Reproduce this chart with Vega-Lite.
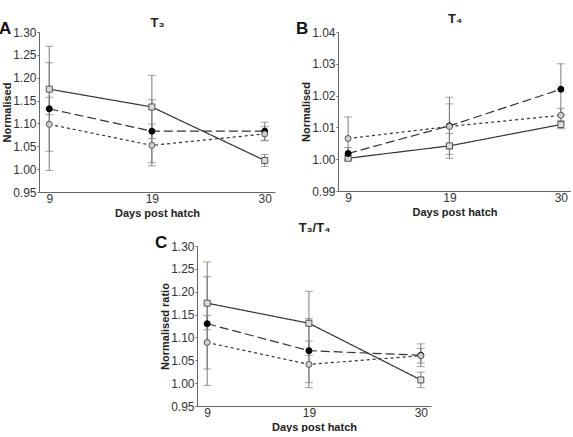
{
  "$schema": "https://vega.github.io/schema/vega-lite/v6.json",
  "padding": {"left": -1, "top": 12, "right": 0, "bottom": 0},
  "background": "white",
  "config": {
    "view": {"stroke": null},
    "font": "Liberation Sans",
    "axis": {"labelFont": "Liberation Sans", "labelFontSize": 12, "labelColor": "#333", "labelOverlap": false, "titleFont": "Liberation Sans", "titleFontSize": 11, "titleFontWeight": "bold", "titleColor": "#222", "domainColor": "#666", "tickColor": "#666", "grid": false, "tickSize": 2, "labelPadding": 1},
    "axisX": {"titlePadding": 3, "tickSize": 0, "labelPadding": 1},
    "axisY": {"titlePadding": 0},
    "title": {"font": "Liberation Sans", "fontWeight": "bold", "color": "#111"}
  },
  "data": {"values": [
    {"panel": "A", "group": "G1", "day": 9, "mean": 1.175, "lo": 1.119, "hi": 1.233},
    {"panel": "A", "group": "G1", "day": 19, "mean": 1.136, "lo": 1.067, "hi": 1.205},
    {"panel": "A", "group": "G1", "day": 30, "mean": 1.019, "lo": 1.006, "hi": 1.032},
    {"panel": "A", "group": "G2", "day": 9, "mean": 1.132, "lo": 0.997, "hi": 1.269},
    {"panel": "A", "group": "G2", "day": 19, "mean": 1.083, "lo": 1.014, "hi": 1.152},
    {"panel": "A", "group": "G2", "day": 30, "mean": 1.083, "lo": 1.063, "hi": 1.103},
    {"panel": "A", "group": "G3", "day": 9, "mean": 1.098, "lo": 1.039, "hi": 1.157},
    {"panel": "A", "group": "G3", "day": 19, "mean": 1.052, "lo": 1.007, "hi": 1.099},
    {"panel": "A", "group": "G3", "day": 30, "mean": 1.077, "lo": 1.062, "hi": 1.093},
    {"panel": "B", "group": "G1", "day": 9, "mean": 1.0003, "lo": 0.9995, "hi": 1.0011},
    {"panel": "B", "group": "G1", "day": 19, "mean": 1.0042, "lo": 1.0003, "hi": 1.0081},
    {"panel": "B", "group": "G1", "day": 30, "mean": 1.0109, "lo": 1.0096, "hi": 1.0122},
    {"panel": "B", "group": "G2", "day": 9, "mean": 1.0018, "lo": 0.9999, "hi": 1.0037},
    {"panel": "B", "group": "G2", "day": 19, "mean": 1.0105, "lo": 1.0015, "hi": 1.0195},
    {"panel": "B", "group": "G2", "day": 30, "mean": 1.022, "lo": 1.014, "hi": 1.030},
    {"panel": "B", "group": "G3", "day": 9, "mean": 1.0065, "lo": 0.9997, "hi": 1.0133},
    {"panel": "B", "group": "G3", "day": 19, "mean": 1.0103, "lo": 1.0032, "hi": 1.0174},
    {"panel": "B", "group": "G3", "day": 30, "mean": 1.0138, "lo": 1.0116, "hi": 1.016},
    {"panel": "C", "group": "G1", "day": 9, "mean": 1.175, "lo": 1.117, "hi": 1.233},
    {"panel": "C", "group": "G1", "day": 19, "mean": 1.131, "lo": 1.061, "hi": 1.201},
    {"panel": "C", "group": "G1", "day": 30, "mean": 1.007, "lo": 0.990, "hi": 1.024},
    {"panel": "C", "group": "G2", "day": 9, "mean": 1.130, "lo": 0.995, "hi": 1.265},
    {"panel": "C", "group": "G2", "day": 19, "mean": 1.071, "lo": 1.001, "hi": 1.141},
    {"panel": "C", "group": "G2", "day": 30, "mean": 1.061, "lo": 1.036, "hi": 1.086},
    {"panel": "C", "group": "G3", "day": 9, "mean": 1.089, "lo": 1.031, "hi": 1.148},
    {"panel": "C", "group": "G3", "day": 19, "mean": 1.041, "lo": 0.990, "hi": 1.092},
    {"panel": "C", "group": "G3", "day": 30, "mean": 1.060, "lo": 1.044, "hi": 1.076}
  ]},
  "spacing": 3,
  "vconcat": [
    {
      "spacing": 21,
      "hconcat": [
        {
          "width": 236, "height": 160,
          "title": {"text": "A", "anchor": "start", "frame": "group", "fontSize": 17, "dx": -40, "dy": 22, "offset": 0},
          "transform": [{"filter": "datum.panel === 'A'"}],
          "resolve": {"axis": {"x": "independent"}},
          "layer": [
            {"mark": {"type": "errorbar", "ticks": {"size": 8}, "color": "#7a7a7a", "thickness": 1},
             "encoding": {"x": {"field": "day", "type": "quantitative", "scale": {"domain": [8, 31], "nice": false}, "axis": {"values": [9, 19, 30], "title": "Days post hatch", "labelOverlap": false}},
               "y": {"field": "lo", "type": "quantitative", "title": "Normalised", "scale": {"domain": [0.95, 1.3], "nice": false, "zero": false}, "axis": {"values": [0.95, 1, 1.05, 1.1, 1.15, 1.2, 1.25, 1.3], "format": ".2f", "labelOverlap": false, "labelSeparation": 0}}, "y2": {"field": "hi"}}},
            {"mark": {"type": "line", "color": "#333", "strokeWidth": 1.2},
             "encoding": {"x": {"field": "day", "type": "quantitative", "axis": null}, "y": {"field": "mean", "type": "quantitative", "title": "Normalised", "axis": {"values": [0.95, 1, 1.05, 1.1, 1.15, 1.2, 1.25, 1.3], "format": ".2f", "labelOverlap": false, "labelSeparation": 0}}, "strokeDash": {"field": "group", "type": "nominal", "scale": {"domain": ["G1", "G2", "G3"], "range": [[1, 0], [9, 4], [3, 3]]}, "legend": null}}},
            {"mark": {"type": "point", "opacity": 1, "strokeWidth": 1, "size": 36},
             "encoding": {"x": {"field": "day", "type": "quantitative", "axis": {"orient": "top", "title": "T₃", "labels": false, "ticks": false, "domain": false, "titleFontSize": 13, "titlePadding": 3}},
               "y": {"field": "mean", "type": "quantitative", "title": "Normalised", "axis": {"values": [0.95, 1, 1.05, 1.1, 1.15, 1.2, 1.25, 1.3], "format": ".2f", "labelOverlap": false, "labelSeparation": 0}},
               "shape": {"field": "group", "type": "nominal", "scale": {"domain": ["G1", "G2", "G3"], "range": ["square", "circle", "circle"]}, "legend": null},
               "fill": {"field": "group", "type": "nominal", "scale": {"domain": ["G1", "G2", "G3"], "range": ["#dddddd", "#000000", "#d0d0d0"]}, "legend": null},
               "stroke": {"field": "group", "type": "nominal", "scale": {"domain": ["G1", "G2", "G3"], "range": ["#555555", "#000000", "#555555"]}, "legend": null}}}
          ]
        },
        {
          "width": 233, "height": 159,
          "title": {"text": "B", "anchor": "start", "frame": "group", "fontSize": 17, "dx": -42, "dy": 26, "offset": 0},
          "transform": [{"filter": "datum.panel === 'B'"}],
          "resolve": {"axis": {"x": "independent"}},
          "layer": [
            {"mark": {"type": "errorbar", "ticks": {"size": 8}, "color": "#7a7a7a", "thickness": 1},
             "encoding": {"x": {"field": "day", "type": "quantitative", "scale": {"domain": [8, 31], "nice": false}, "axis": {"values": [9, 19, 30], "title": "Days post hatch", "labelOverlap": false}},
               "y": {"field": "lo", "type": "quantitative", "title": "Normalised", "scale": {"domain": [0.99, 1.04], "nice": false, "zero": false}, "axis": {"values": [0.99, 1, 1.01, 1.02, 1.03, 1.04], "format": ".2f", "labelOverlap": false, "labelSeparation": 0}}, "y2": {"field": "hi"}}},
            {"mark": {"type": "line", "color": "#333", "strokeWidth": 1.2},
             "encoding": {"x": {"field": "day", "type": "quantitative", "axis": null}, "y": {"field": "mean", "type": "quantitative", "title": "Normalised", "axis": {"values": [0.99, 1, 1.01, 1.02, 1.03, 1.04], "format": ".2f", "labelOverlap": false, "labelSeparation": 0}}, "strokeDash": {"field": "group", "type": "nominal", "scale": {"domain": ["G1", "G2", "G3"], "range": [[1, 0], [9, 4], [3, 3]]}, "legend": null}}},
            {"mark": {"type": "point", "opacity": 1, "strokeWidth": 1, "size": 36},
             "encoding": {"x": {"field": "day", "type": "quantitative", "axis": {"orient": "top", "title": "T₄", "labels": false, "ticks": false, "domain": false, "titleFontSize": 13, "titlePadding": 7}},
               "y": {"field": "mean", "type": "quantitative", "title": "Normalised", "axis": {"values": [0.99, 1, 1.01, 1.02, 1.03, 1.04], "format": ".2f", "labelOverlap": false, "labelSeparation": 0}},
               "shape": {"field": "group", "type": "nominal", "scale": {"domain": ["G1", "G2", "G3"], "range": ["square", "circle", "circle"]}, "legend": null},
               "fill": {"field": "group", "type": "nominal", "scale": {"domain": ["G1", "G2", "G3"], "range": ["#dddddd", "#000000", "#d0d0d0"]}, "legend": null},
               "stroke": {"field": "group", "type": "nominal", "scale": {"domain": ["G1", "G2", "G3"], "range": ["#555555", "#000000", "#555555"]}, "legend": null}}}
          ]
        }
      ]
    },
    {
      "spacing": 16,
      "hconcat": [
        {"width": 100, "height": 160, "data": {"values": []}, "mark": "point", "encoding": {}},
        {
          "width": 234, "height": 160,
          "title": {"text": "C", "anchor": "start", "frame": "group", "fontSize": 17, "dx": -42, "dy": 31, "offset": 0},
          "transform": [{"filter": "datum.panel === 'C'"}],
          "resolve": {"axis": {"x": "independent"}},
          "layer": [
            {"mark": {"type": "errorbar", "ticks": {"size": 8}, "color": "#7a7a7a", "thickness": 1},
             "encoding": {"x": {"field": "day", "type": "quantitative", "scale": {"domain": [8, 31], "nice": false}, "axis": {"values": [9, 19, 30], "title": "Days post hatch", "labelOverlap": false}},
               "y": {"field": "lo", "type": "quantitative", "title": "Normalised ratio", "scale": {"domain": [0.95, 1.3], "nice": false, "zero": false}, "axis": {"values": [0.95, 1, 1.05, 1.1, 1.15, 1.2, 1.25, 1.3], "format": ".2f", "labelOverlap": false, "labelSeparation": 0}}, "y2": {"field": "hi"}}},
            {"mark": {"type": "line", "color": "#333", "strokeWidth": 1.2},
             "encoding": {"x": {"field": "day", "type": "quantitative", "axis": null}, "y": {"field": "mean", "type": "quantitative", "title": "Normalised ratio", "axis": {"values": [0.95, 1, 1.05, 1.1, 1.15, 1.2, 1.25, 1.3], "format": ".2f", "labelOverlap": false, "labelSeparation": 0}}, "strokeDash": {"field": "group", "type": "nominal", "scale": {"domain": ["G1", "G2", "G3"], "range": [[1, 0], [9, 4], [3, 3]]}, "legend": null}}},
            {"mark": {"type": "point", "opacity": 1, "strokeWidth": 1, "size": 36},
             "encoding": {"x": {"field": "day", "type": "quantitative", "axis": {"orient": "top", "title": "T₃/T₄", "labels": false, "ticks": false, "domain": false, "titleFontSize": 13, "titlePadding": 12}},
               "y": {"field": "mean", "type": "quantitative", "title": "Normalised ratio", "axis": {"values": [0.95, 1, 1.05, 1.1, 1.15, 1.2, 1.25, 1.3], "format": ".2f", "labelOverlap": false, "labelSeparation": 0}},
               "shape": {"field": "group", "type": "nominal", "scale": {"domain": ["G1", "G2", "G3"], "range": ["square", "circle", "circle"]}, "legend": null},
               "fill": {"field": "group", "type": "nominal", "scale": {"domain": ["G1", "G2", "G3"], "range": ["#dddddd", "#000000", "#d0d0d0"]}, "legend": null},
               "stroke": {"field": "group", "type": "nominal", "scale": {"domain": ["G1", "G2", "G3"], "range": ["#555555", "#000000", "#555555"]}, "legend": null}}}
          ]
        }
      ]
    }
  ]
}
